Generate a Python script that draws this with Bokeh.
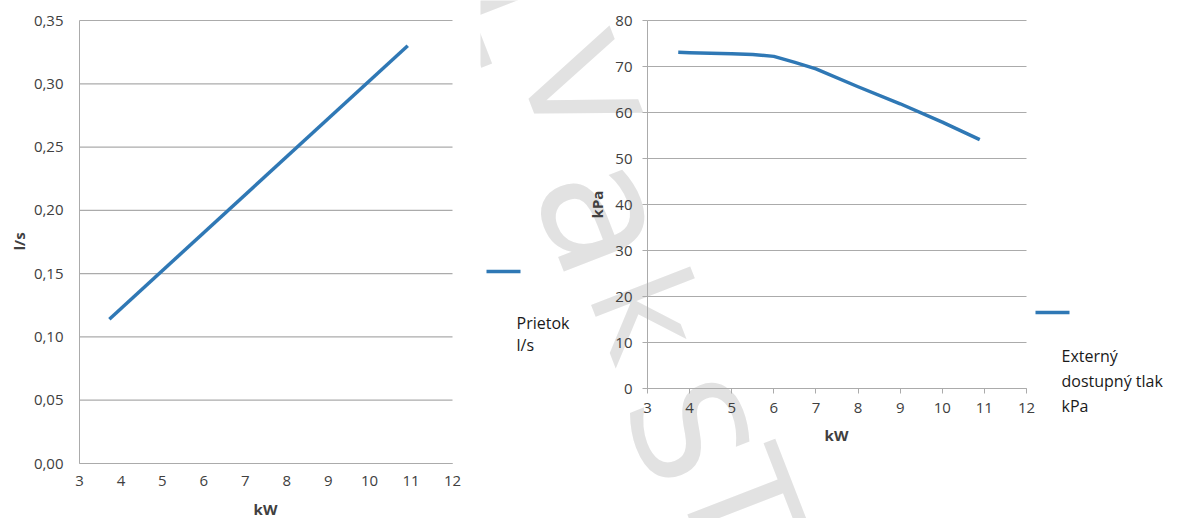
import math
from bokeh.plotting import figure
from bokeh.layouts import row
from bokeh.models import Range1d, FixedTicker, CustomJSTickFormatter, Label, Arrow
from bokeh.embed import file_html
from bokeh.resources import INLINE

# ---- data ----
flow_kw = [3.72, 10.92]
flow_ls = [0.114, 0.330]

press_kw = [3.73, 4.0, 5.0, 5.5, 6.0, 6.5, 7.0, 8.0, 9.0, 10.0, 10.89]
press_kpa = [73.1, 73.0, 72.75, 72.6, 72.2, 70.9, 69.5, 65.6, 61.9, 57.9, 54.1]

x_ticks = [3, 4, 5, 6, 7, 8, 9, 10, 11, 12]
y1_ticks = [0.0, 0.05, 0.10, 0.15, 0.20, 0.25, 0.30, 0.35]
y1_tick_labels = ["0,00", "0,05", "0,10", "0,15", "0,20", "0,25", "0,30", "0,35"]
y2_ticks = [0, 10, 20, 30, 40, 50, 60, 70, 80]

x_title = "kW"
y1_title = "l/s"
y2_title = "kPa"
legend1 = ["Prietok", "l/s"]
legend2 = ["Externý", "dostupný tlak", "kPa"]
watermark = ["L", "V", "a", "k", "S", "T"]

# ---- style / layout ----
BLUE = "#2f78b5"
GRID = "#ababab"
TXT = "#404040"
FONT = "Open Sans"
H = 518
W1 = 480
W2 = 698
X2 = W1  # page x where the right canvas starts

# watermark letter placement (page px) and sizes
wm_pos = [(512, 14), (576, 88), (606, 214), (646, 313), (687, 430), (738, 502)]
wm_size = [140, 140, 175, 140, 150, 150]

def lin_range(p0, p1, v0, v1, a, b):
    f = lambda p: v0 + (p - p0) * (v1 - v0) / (p1 - p0)
    return Range1d(f(a), f(b))

def make_fig(w, xr, yr):
    p = figure(width=w, height=H, x_range=xr, y_range=yr, output_backend="svg",
               toolbar_location=None, min_border=0, min_border_left=0, min_border_right=0,
               min_border_top=0, min_border_bottom=0)
    p.outline_line_color = None
    p.xgrid.grid_line_color = None
    p.ygrid.grid_line_color = None
    for ax in (p.xaxis[0], p.yaxis[0]):
        ax.major_label_text_font = FONT
        ax.major_label_text_font_size = "15px"
        ax.major_label_text_color = TXT
        ax.minor_tick_line_color = None
        ax.axis_line_color = GRID
        ax.major_tick_line_color = GRID
        ax.major_tick_in = 0
    return p

def title(p, text, x, y, angle=0.0):
    p.add_layout(Label(x=x, y=y, x_units="canvas", y_units="canvas", text=text, angle=angle,
                       text_align="center", text_baseline="middle", text_font=FONT,
                       text_font_size="15px", text_font_style="bold", text_color=TXT))

# ---- left chart: frame x 79..452 (3..12), y 463..20 (0..0.35) ----
p1 = make_fig(W1, lin_range(79, 452, 3, 12, 0, W1), lin_range(463, 20, 0, 0.35, H, 0))
p1.segment(x0=[x_ticks[0]] * len(y1_ticks), x1=[x_ticks[-1]] * len(y1_ticks),
           y0=y1_ticks, y1=y1_ticks, line_color=GRID, line_width=1.2)
p1.xaxis.fixed_location = 0
p1.xaxis.bounds = (3, 12)
p1.yaxis.fixed_location = 3
p1.yaxis.bounds = (0, 0.35)
p1.xaxis.ticker = FixedTicker(ticks=x_ticks)
p1.yaxis.ticker = FixedTicker(ticks=y1_ticks)
p1.yaxis.formatter = CustomJSTickFormatter(args=dict(tk=y1_ticks, lb=y1_tick_labels), code="""
let b = 0;
for (let i = 0; i < tk.length; i++) { if (Math.abs(tk[i] - tick) < Math.abs(tk[b] - tick)) b = i; }
return lb[b];
""")
p1.xaxis.major_tick_out = 0
p1.yaxis.major_tick_out = 0
p1.xaxis.major_label_standoff = 12
p1.yaxis.major_label_standoff = 16
p1.line(flow_kw, flow_ls, line_color=BLUE, line_width=3.5)
title(p1, x_title, 265, 508)
title(p1, y1_title, 18, 241, math.pi / 2)

# ---- right chart: frame x 647..1026 (3..12), y 388..20 (0..80) ----
p2 = make_fig(W2, lin_range(647 - X2, 1026 - X2, 3, 12, 0, W2), lin_range(388, 20, 0, 80, H, 0))
for ch, (px, py), fs in zip(watermark, wm_pos, wm_size):
    p2.add_layout(Label(x=px - X2, y=py, x_units="canvas", y_units="canvas", text=ch,
                        angle=-1.2, text_align="center", text_baseline="middle",
                        text_font="DejaVu Sans", text_font_size=f"{fs}px",
                        text_color="#e2e2e2", level="image"))
p2.segment(x0=[x_ticks[0]] * len(y2_ticks), x1=[x_ticks[-1]] * len(y2_ticks),
           y0=y2_ticks, y1=y2_ticks, line_color=GRID, line_width=1.2)
p2.xaxis.fixed_location = 0
p2.xaxis.bounds = (3, 12)
p2.yaxis.fixed_location = 3
p2.yaxis.bounds = (0, 80)
p2.xaxis.ticker = FixedTicker(ticks=x_ticks)
p2.yaxis.ticker = FixedTicker(ticks=y2_ticks)
p2.xaxis.major_tick_out = 5
p2.yaxis.major_tick_out = 5
p2.xaxis.major_label_standoff = 9
p2.yaxis.major_label_standoff = 10
p2.line(press_kw, press_kpa, line_color=BLUE, line_width=3.5, line_join="round")
title(p2, x_title, 836 - X2, 434)
title(p2, y2_title, 596 - X2, 204, math.pi / 2)

# legends (both drawn on the right canvas, which spans the gap between the charts)
for (lx, ly, tx, ty, gap, texts) in [(486, 271, 516, 322, 22, legend1),
                                     (1035, 312, 1061, 355, 25, legend2)]:
    p2.add_layout(Arrow(end=None, x_start=lx - X2, y_start=ly, x_end=lx + 34 - X2, y_end=ly,
                        start_units="canvas", end_units="canvas",
                        line_color=BLUE, line_width=3.5))
    for i, t in enumerate(texts):
        p2.add_layout(Label(x=tx - X2, y=ty + gap * i, x_units="canvas", y_units="canvas",
                            text=t, text_font=FONT, text_font_size="16px",
                            text_color="#1a1a1a", text_baseline="alphabetic"))

layout = row(p1, p2)
open("out.html", "w").write(file_html(layout, INLINE))
